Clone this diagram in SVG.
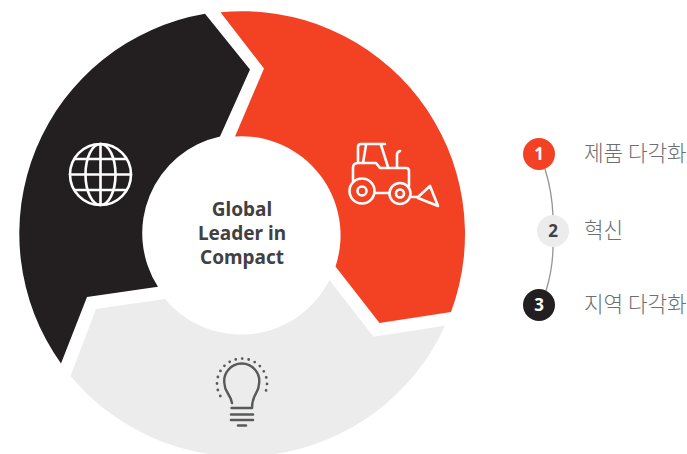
<svg xmlns="http://www.w3.org/2000/svg" width="687" height="454" viewBox="0 0 687 454">
<style>
.ic{fill:none;stroke:#fff;stroke-width:2.6;stroke-linejoin:round;stroke-linecap:round}
.bulb{fill:none;stroke:#58595b;stroke-width:2.4;stroke-linecap:round;stroke-linejoin:round}
.c{font-family:"Noto Sans","Open Sans","Liberation Sans",sans-serif;font-weight:700;font-size:19px;fill:#414042;text-anchor:middle}
.n{font-family:"Noto Sans","Open Sans",sans-serif;font-weight:700;font-size:17px;text-anchor:middle}
.l{font-family:"Noto Sans CJK KR","Noto Sans",sans-serif;font-weight:300;font-size:21.300px;fill:#6d6e71}
</style>
<g id="connectors"><path d="M545 169Q552 191 553 216M553 246Q553 268 546 291" fill="none" stroke="#939598" stroke-width="1.3"/></g>
<g id="seg-red">
<path d="M220.500 12.300A223 223 0 0 1 451 312L379.500 323L335.500 266.500A99 99 0 0 0 235 136.500L264 68.500Z" fill="#f34123"/>
<g class="ic"><path d="M358 163V147Q358 144 361 144H385M366 145L363 163M381 145L388 167M353 181V168Q353 163 358 163H376L380 168H406Q409 168 409 171V186M397 167V155Q397 152 400 151M375 193H388M412 197H418L430 186L438 206L418 198"/><circle cx="362" cy="191" r="12.500"/><circle cx="362" cy="191" r="4.500"/><circle cx="400" cy="193.500" r="10.500"/><circle cx="400" cy="193.500" r="4"/></g>
</g>
<g id="seg-black">
<path d="M205 13.800L250 69.500L220 136.500A99 99 0 0 0 158 286.800L87 297L61 363.500A223 223 0 0 1 205 13.800Z" fill="#231f20"/>
<g class="ic" stroke-width="2.2"><circle cx="100.500" cy="174.500" r="30.500"/><ellipse cx="100.500" cy="174.500" rx="15" ry="30.500"/><path d="M100.500 144V205M70 174.500H131M75 159H126M75 190H126"/></g>
</g>
<g id="seg-gray">
<path d="M329.500 280L373.500 336.800L445 325.800A223 223 0 0 1 70.500 376L96 309L165 299A99 99 0 0 0 329.500 280Z" fill="#ececec"/>
<g class="bulb"><path d="M232 403C230 393 224.500 392 224.500 384A17.500 17.500 0 1 1 259 384C259 393 252 394 252 408H231.500"/><path d="M231 414.500H253M231 420H253M238 425.500H246" stroke-width="2.600"/>
<path d="M220.300 396A25 25 0 1 1 263.700 396" stroke-width="2.800" stroke-dasharray="0 6.540"/></g>
</g>
<g id="center"><text class="c" x="242" y="216">Global</text><text class="c" x="242" y="240">Leader in</text><text class="c" x="242" y="264">Compact</text></g>
<g id="item-1"><circle cx="539" cy="154" r="16" fill="#f34123"/><text class="n" x="539" y="160" fill="#fff">1</text><text class="l" x="584" y="161">제품 다각화</text></g>
<g id="item-2"><circle cx="553" cy="231" r="16" fill="#ececec"/><text class="n" x="553" y="237" fill="#414042">2</text><text class="l" x="584" y="238">혁신</text></g>
<g id="item-3"><circle cx="539" cy="305" r="16" fill="#231f20"/><text class="n" x="539" y="311" fill="#fff">3</text><text class="l" x="584" y="312">지역 다각화</text></g>
</svg>
